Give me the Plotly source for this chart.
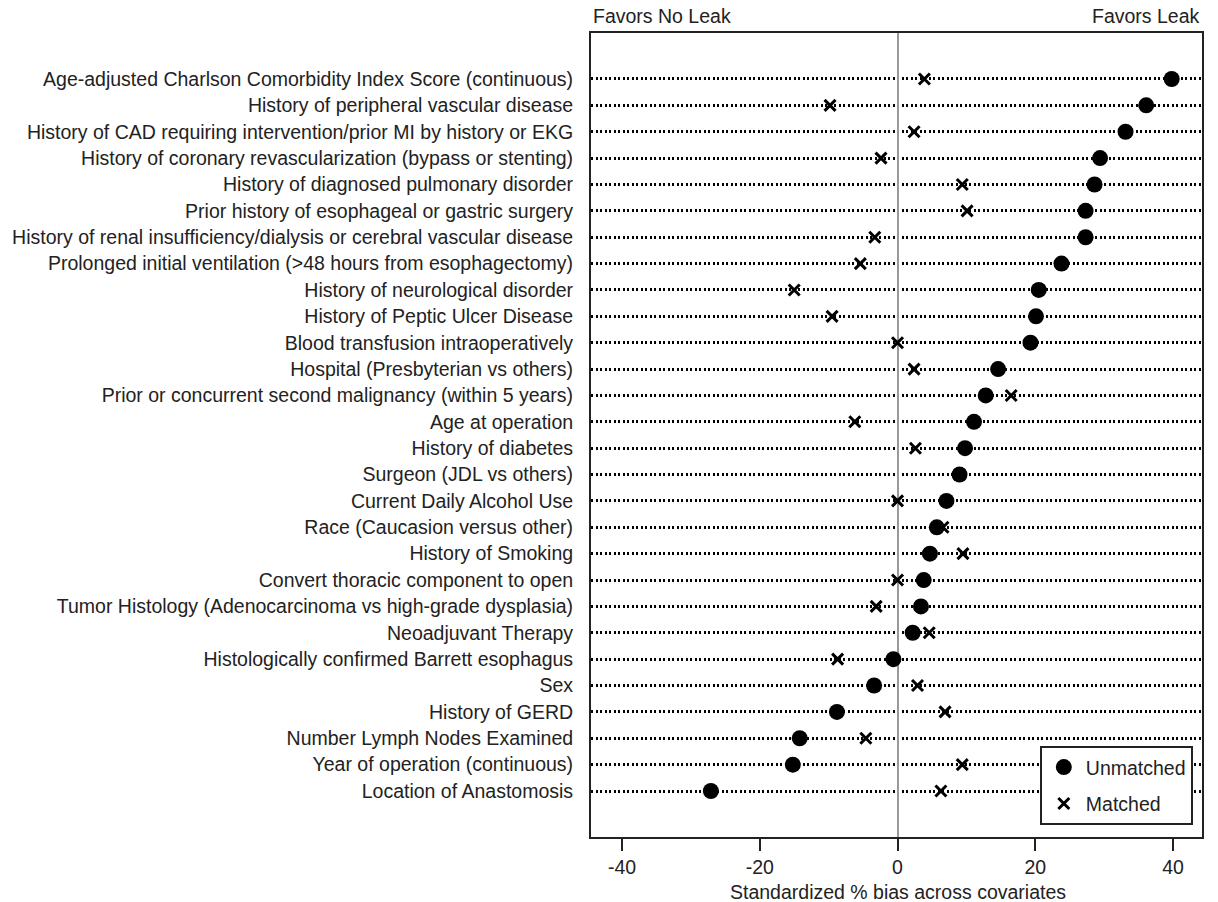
import plotly.graph_objects as go

covariates = [
    "Age-adjusted Charlson Comorbidity Index Score (continuous)",
    "History of peripheral vascular disease",
    "History of CAD requiring intervention/prior MI by history or EKG",
    "History of coronary revascularization (bypass or stenting)",
    "History of diagnosed pulmonary disorder",
    "Prior history of esophageal or gastric surgery",
    "History of renal insufficiency/dialysis or cerebral vascular disease",
    "Prolonged initial ventilation (>48 hours from esophagectomy)",
    "History of neurological disorder",
    "History of Peptic Ulcer Disease",
    "Blood transfusion intraoperatively",
    "Hospital (Presbyterian vs others)",
    "Prior or concurrent second malignancy (within 5 years)",
    "Age at operation",
    "History of diabetes",
    "Surgeon (JDL vs others)",
    "Current Daily Alcohol Use",
    "Race (Caucasion versus other)",
    "History of Smoking",
    "Convert thoracic component to open",
    "Tumor Histology (Adenocarcinoma vs high-grade dysplasia)",
    "Neoadjuvant Therapy",
    "Histologically confirmed Barrett esophagus",
    "Sex",
    "History of GERD",
    "Number Lymph Nodes Examined",
    "Year of operation (continuous)",
    "Location of Anastomosis",
]

unmatched = [39.8, 36.1, 33.1, 29.4, 28.6, 27.3, 27.3, 23.8, 20.5, 20.1,
             19.3, 14.6, 12.8, 11.1, 9.8, 9.0, 7.1, 5.7, 4.7, 3.8,
             3.4, 2.2, -0.6, -3.4, -8.8, -14.2, -15.2, -27.1]

matched = [3.9, -9.8, 2.4, -2.4, 9.4, 10.1, -3.3, -5.4, -15.0, -9.5,
           0.0, 2.4, 16.5, -6.2, 2.6, 9.0, 0.0, 6.6, 9.5, 0.0,
           -3.1, 4.6, -8.7, 2.9, 6.9, -4.6, 9.4, 6.3]

x_ticks = [-40, -20, 0, 20, 40]
rows = list(range(1, len(covariates) + 1))

FONT = "Liberation Sans, Arial, sans-serif"
TXT = "#222222"
FS = 19.5

fig = go.Figure()
fig.add_trace(go.Scatter(
    x=unmatched, y=rows, mode="markers", name="Unmatched",
    legendgroup="a",
    marker=dict(symbol="circle", size=16, color="black"),
))
fig.add_trace(go.Scatter(
    x=matched, y=rows, mode="markers", name="Matched",
    legendgroup="b",
    marker=dict(symbol="x-thin-open", size=11, color="black",
                line=dict(width=3, color="black")),
))

fig.add_annotation(text="Favors No Leak", xref="paper", yref="paper",
                   x=0, y=1.021, xanchor="left", yanchor="middle",
                   showarrow=False, font=dict(size=FS, color=TXT, family=FONT))
fig.add_annotation(text="Favors Leak", xref="paper", yref="paper",
                   x=1, y=1.021, xanchor="right", yanchor="middle",
                   showarrow=False, font=dict(size=FS, color=TXT, family=FONT))
fig.add_annotation(text="Standardized % bias across covariates",
                   xref="x", yref="paper", x=0, y=-0.068,
                   xanchor="center", yanchor="middle", showarrow=False,
                   font=dict(size=FS, color=TXT, family=FONT))

fig.update_layout(
    width=1218, height=902,
    margin=dict(l=587, r=16, t=33, b=65),
    paper_bgcolor="white", plot_bgcolor="white",
    font=dict(family=FONT, size=FS, color=TXT),
    showlegend=True,
    legend=dict(
        x=0.985, y=0.015, xanchor="right", yanchor="bottom",
        bgcolor="white", bordercolor=TXT, borderwidth=2,
        font=dict(size=FS, color=TXT, family=FONT),
        traceorder="grouped", tracegroupgap=8, itemwidth=34,
    ),
    xaxis=dict(
        range=[-44.5, 44.2],
        tickvals=x_ticks, ticktext=[str(v) for v in x_ticks],
        ticks="outside", ticklen=12, tickwidth=2, tickcolor=TXT,
        ticklabelstandoff=0,
        showline=True, mirror=True, linecolor=TXT, linewidth=2,
        showgrid=False,
        zeroline=True, zerolinecolor="#999999", zerolinewidth=2,
        tickfont=dict(size=FS, color=TXT, family=FONT),
    ),
    yaxis=dict(
        range=[29.744, -0.744],
        tickvals=rows, ticktext=covariates,
        ticks="", ticklabelstandoff=12,
        showline=True, mirror=True, linecolor=TXT, linewidth=2,
        showgrid=True, gridcolor="black", gridwidth=2.5, griddash="2px,2.5px",
        zeroline=False,
        tickfont=dict(size=FS, color=TXT, family=FONT),
    ),
)

fig.write_html("out.html")
